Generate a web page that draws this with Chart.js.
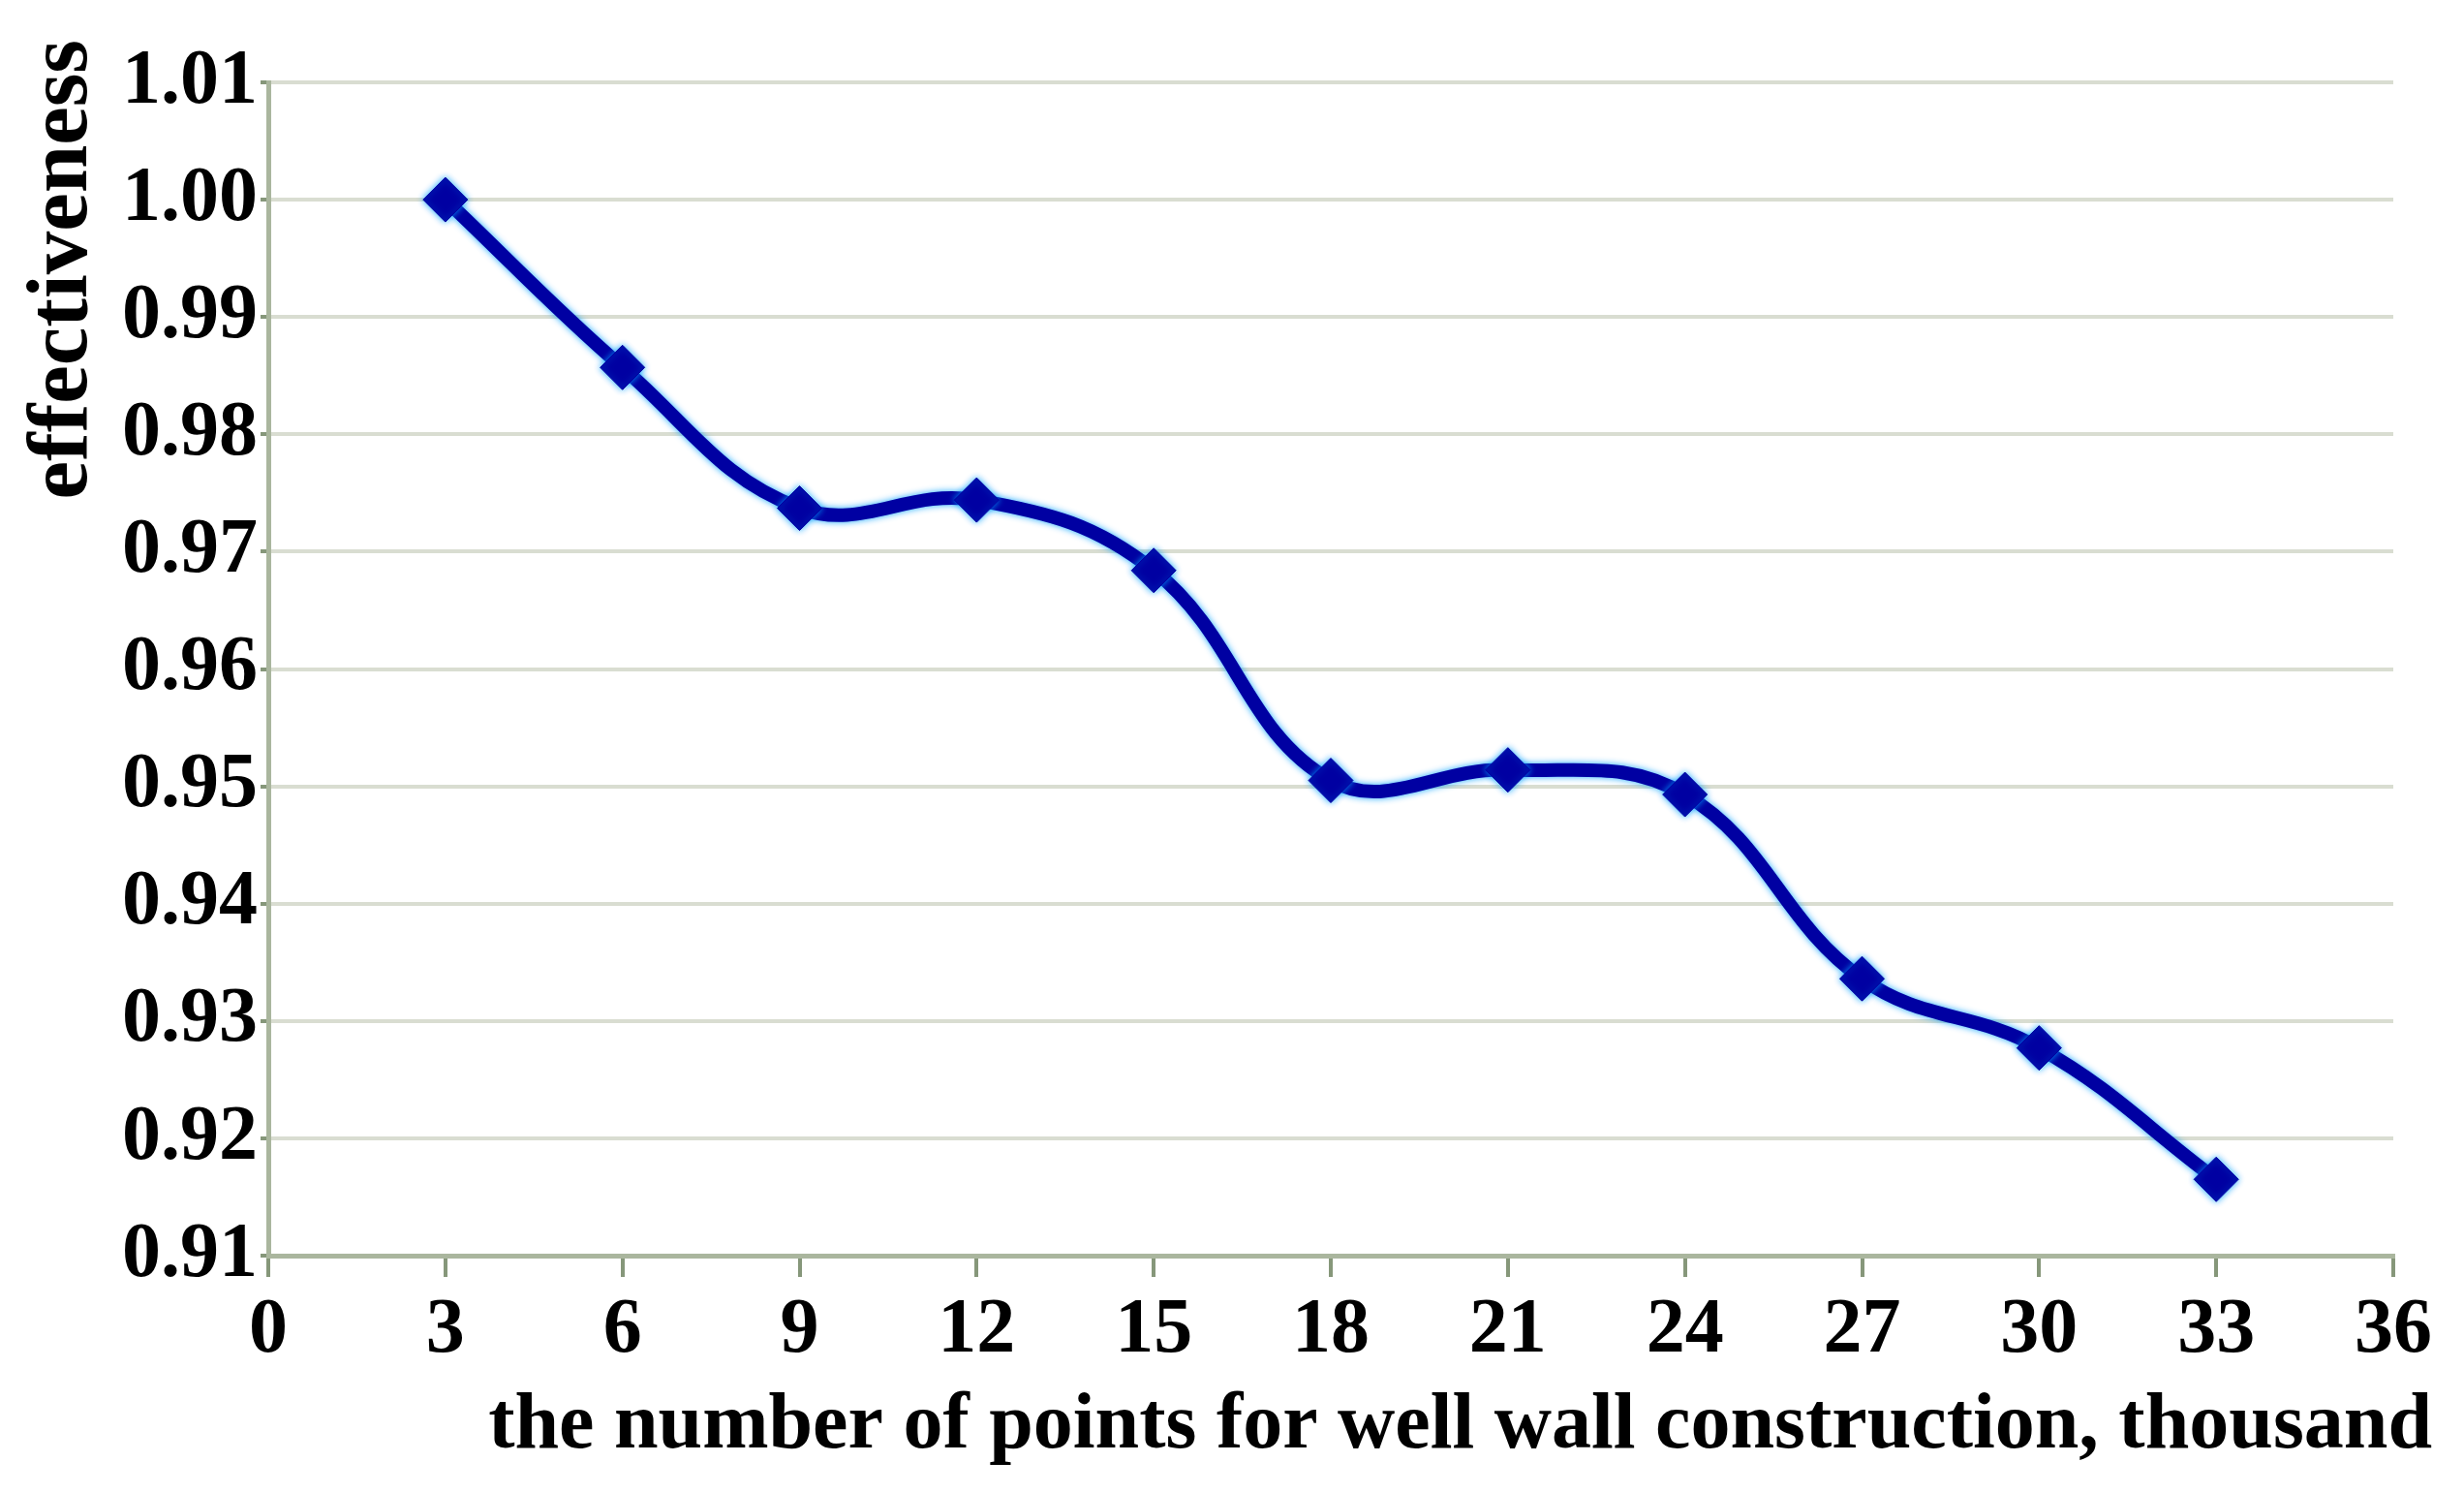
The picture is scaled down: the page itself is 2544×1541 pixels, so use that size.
<!DOCTYPE html>
<html>
<head>
<meta charset="utf-8">
<script src="https://cdn.jsdelivr.net/npm/chart.js@4.4.1/dist/chart.umd.min.js"></script>
<style>
    html, body { margin: 0; padding: 0; background: #ffffff; }
    #wrap { width: 2544px; height: 1541px; }
</style>
</head>
<body>
<div id="wrap"><canvas id="effChart"></canvas></div>
<script>
// Data
const pointCounts = [3, 6, 9, 12, 15, 18, 21, 24, 27, 30, 33];
const effectiveness = [1.000, 0.9857, 0.9737, 0.9744, 0.9684, 0.9505, 0.9514, 0.9493, 0.9336, 0.9277, 0.9165];
const xTicks = [0, 3, 6, 9, 12, 15, 18, 21, 24, 27, 30, 33, 36];
const yTicks = [0.91, 0.92, 0.93, 0.94, 0.95, 0.96, 0.97, 0.98, 0.99, 1.00, 1.01];

const xTitle = 'the number of points for well wall construction, thousand';
const yTitle = 'effectiveness';

const serif = "'Liberation Serif', 'DejaVu Serif', serif";
const lineBlue = '#0000a2';

// soft blue glow round the line, like the blurred original
const glowPlugin = {
    id: 'glow',
    beforeDatasetDraw(chart) {
        const ctx = chart.ctx;
        ctx.save();
        ctx.shadowColor = 'rgba(0, 160, 255, 0.9)';
        ctx.shadowBlur = 7;
    },
    afterDatasetDraw(chart) {
        chart.ctx.restore();
    }
};

// axis titles sit outside the plot box in the original, so draw them here
const axisTitles = {
    id: 'axisTitles',
    afterDraw(chart) {
        const ctx = chart.ctx;
        ctx.save();
        ctx.fillStyle = '#000000';

        // x title, right-aligned near the canvas edge
        ctx.font = 'bold 82px ' + serif;
        ctx.textAlign = 'right';
        ctx.textBaseline = 'alphabetic';
        ctx.fillText(xTitle, chart.width - 33, 1494);

        // y title, rotated, ending at the top
        ctx.translate(89, 41);
        ctx.rotate(-Math.PI / 2);
        ctx.font = 'bold 89px ' + serif;
        ctx.textAlign = 'right';
        ctx.fillText(yTitle, 0, 0);
        ctx.restore();
    }
};

document.addEventListener('DOMContentLoaded', function() {
    const ctx = document.getElementById('effChart').getContext('2d');

    new Chart(ctx, {
        type: 'line',
        data: {
            datasets: [{
                label: yTitle,
                data: pointCounts.map((x, i) => ({ x: x, y: effectiveness[i] })),
                borderColor: lineBlue,
                backgroundColor: lineBlue,
                borderWidth: 14,
                tension: 0.4,
                pointStyle: 'rectRot',
                pointRadius: 23,
                pointBackgroundColor: lineBlue,
                pointBorderColor: lineBlue,
                pointBorderWidth: 1,
                fill: false
            }]
        },
        plugins: [glowPlugin, axisTitles],
        options: {
            responsive: true,
            maintainAspectRatio: false,
            animation: false,
            layout: {
                padding: { top: 85, right: 73, bottom: 111, left: 123 }
            },
            plugins: {
                legend: { display: false },
                tooltip: { enabled: false }
            },
            scales: {
                x: {
                    type: 'linear',
                    min: 0,
                    max: 36,
                    afterBuildTicks: axis => {
                        axis.ticks = xTicks.map(v => ({ value: v }));
                    },
                    ticks: {
                        color: '#000000',
                        font: { family: serif, size: 80, weight: 'bold' },
                        padding: 8,
                        maxRotation: 0,
                        autoSkip: false
                    },
                    grid: {
                        drawOnChartArea: false,
                        drawTicks: true,
                        tickLength: 22,
                        tickColor: '#86977a',
                        lineWidth: 4
                    },
                    border: { display: true, color: '#aab69e', width: 5 }
                },
                y: {
                    min: 0.91,
                    max: 1.01,
                    afterBuildTicks: axis => {
                        axis.ticks = yTicks.map(v => ({ value: v }));
                    },
                    ticks: {
                        color: '#000000',
                        font: { family: serif, size: 80, weight: 'bold' },
                        padding: 3,
                        callback: v => Number(v).toFixed(2)
                    },
                    grid: {
                        color: '#d9ddd1',
                        lineWidth: 4,
                        drawTicks: true,
                        tickLength: 8,
                        tickColor: '#86977a'
                    },
                    border: { display: true, color: '#aab69e', width: 5 }
                }
            }
        }
    });
});
</script>
</body>
</html>
